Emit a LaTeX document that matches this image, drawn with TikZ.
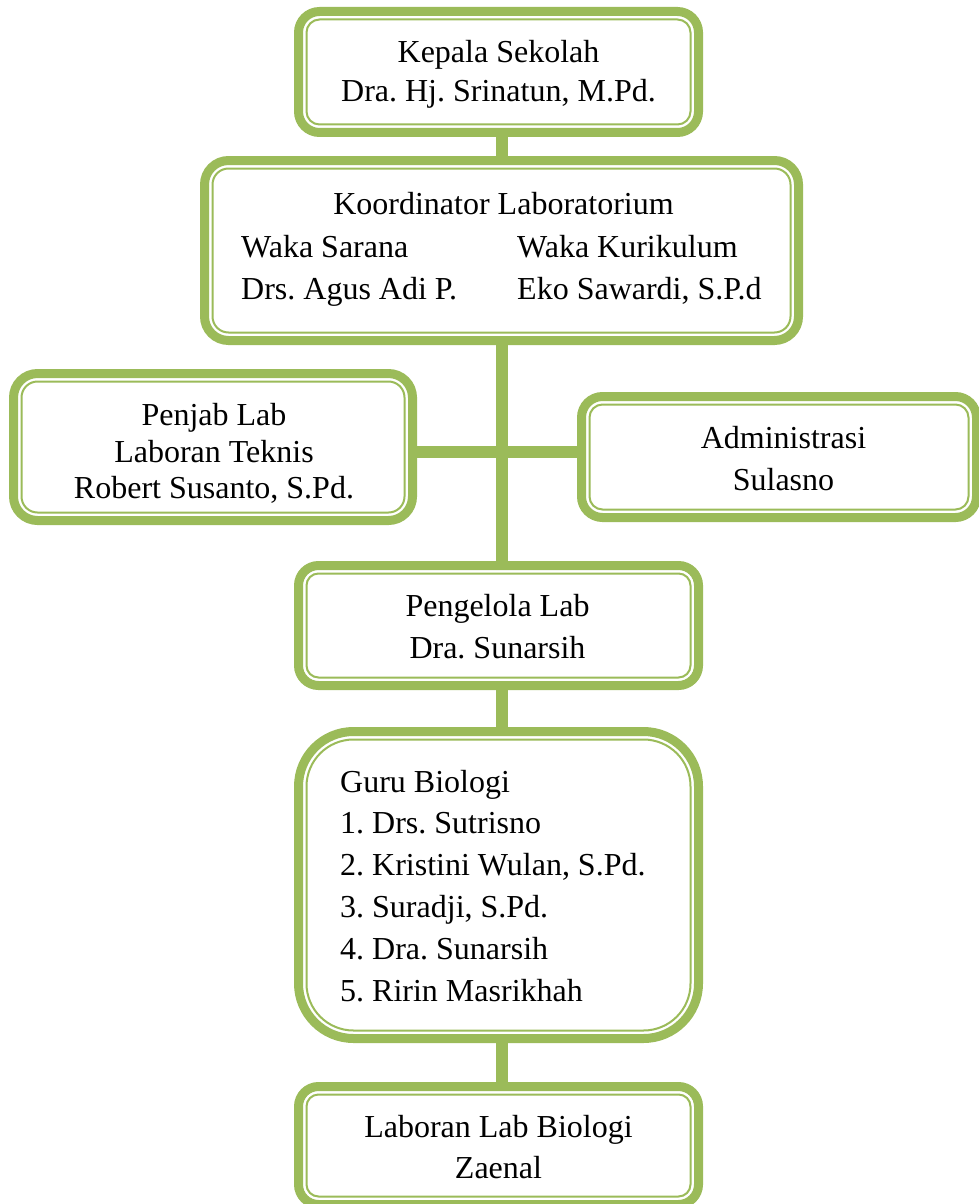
\documentclass[tikz,border=0pt]{standalone}
\usepackage{fontspec}
\setmainfont{Liberation Serif}
\frenchspacing
\definecolor{G}{HTML}{9BBB59}
\begin{document}
\begin{tikzpicture}[x=1pt,y=-1pt,
  orgbox/.style={draw=G, line width=9pt, rounded corners=#1, fill=white, outer sep=0pt, inner sep=0pt},
  inline/.style={draw=G, line width=2pt, rounded corners=#1},
  conn/.style={draw=G, line width=12pt},
  txt/.style={font=\fontsize{32}{42}\selectfont, inner sep=0pt, anchor=base, text=black},
  txtl/.style={txt, anchor=base west}]
\useasboundingbox (0,0) rectangle (978,1204);
% boxes
\node[orgbox=21pt, minimum width=400pt, minimum height=121pt] (kep) at (498.5,72) {};
\node[orgbox=24pt, minimum width=594pt, minimum height=180pt] (koo) at (501.5,250.5) {};
\node[orgbox=24pt, minimum width=399pt, minimum height=147pt] (pen) at (213,447) {};
\node[orgbox=21pt, minimum width=395pt, minimum height=121pt] (adm) at (779,457) {};
\node[orgbox=20pt, minimum width=400pt, minimum height=120pt] (pgl) at (498.5,625.5) {};
\node[orgbox=55pt, minimum width=400pt, minimum height=307pt] (guru) at (498.5,885) {};
\node[orgbox=20pt, minimum width=400pt, minimum height=118pt] (lab) at (498.5,1145.5) {};
% inner thin lines
\foreach \n/\r in {kep/13, koo/16, pen/16, adm/13, pgl/12, guru/47, lab/12}
  \draw[inline=\r pt] ([shift={(8pt,-8pt)}]\n.north west) rectangle ([shift={(-8pt,8pt)}]\n.south east);
% connectors
\coordinate (tk) at (502,0);
\coordinate (hy) at (0,452);
\draw[conn] (kep.south -| tk) -- (koo.north -| tk);
\draw[conn] (koo.south -| tk) -- (pgl.north -| tk);
\draw[conn] (pen.east |- hy) -- (adm.west |- hy);
\draw[conn] (pgl.south -| tk) -- (guru.north -| tk);
\draw[conn] (guru.south -| tk) -- (lab.north -| tk);
% texts
\node[txt] (kep1) at (498.5,63) {Kepala Sekolah};
\node[txt] (kep2) at (498.5,102) {Dra. Hj. Srinatun, M.Pd.};
\node[txt] (koo1) at (503.5,214) {Koordinator Laboratorium};
\node[txtl] (koo2) at (241,257) {Waka Sarana};
\node[txtl] (koo3) at (517,257) {Waka Kurikulum};
\node[txtl] (koo4) at (241,299) {Drs. Agus Adi P.};
\node[txtl] (koo5) at (517,299) {Eko Sawardi, S.P.d};
\node[txt] (pen1) at (214,425) {Penjab Lab};
\node[txt] (pen2) at (214,462) {Laboran Teknis};
\node[txt] (pen3) at (214,498) {Robert Susanto, S.Pd.};
\node[txt] (adm1) at (783.5,448) {Administrasi};
\node[txt] (adm2) at (783.5,490) {Sulasno};
\node[txt] (pgl1) at (497.5,616) {Pengelola Lab};
\node[txt] (pgl2) at (497.5,658) {Dra. Sunarsih};
\node[txtl] (guru1) at (340,792) {Guru Biologi};
\node[txtl] (guru2) at (340,833) {1. Drs. Sutrisno};
\node[txtl] (guru3) at (340,875) {2. Kristini Wulan, S.Pd.};
\node[txtl] (guru4) at (340,917) {3. Suradji, S.Pd.};
\node[txtl] (guru5) at (340,959) {4. Dra. Sunarsih};
\node[txtl] (guru6) at (340,1001) {5. Ririn Masrikhah};
\node[txt] (lab1) at (498.5,1137) {Laboran Lab Biologi};
\node[txt] (lab2) at (498.5,1178) {Zaenal};
\end{tikzpicture}
\end{document}
